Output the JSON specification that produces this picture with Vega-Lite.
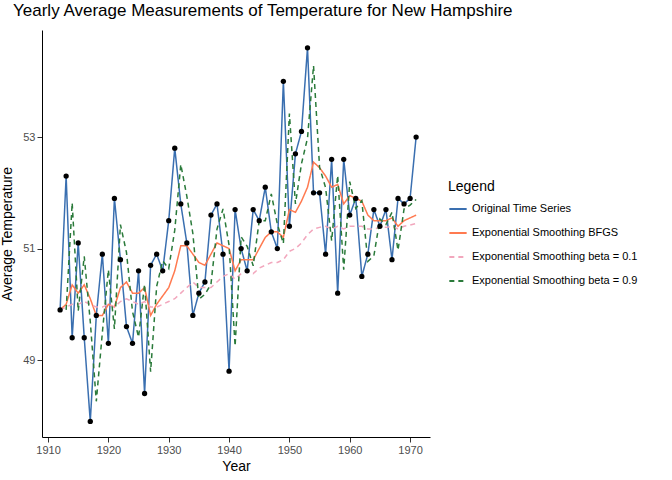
{
"$schema":"https://vega.github.io/schema/vega-lite/v6.json",
"autosize":{"type":"none"},
"width":388,"height":407,
"padding":{"left":42,"top":30,"right":242,"bottom":43},
"background":"white",
"title":{"text":"Yearly Average Measurements of Temperature for New Hampshire","anchor":"start","frame":"group","dx":-29,"offset":10,"font":"Liberation Sans","fontSize":17,"fontWeight":"normal","color":"black"},
"config":{"view":{"stroke":null},"axis":{"grid":false,"domainColor":"black","tickColor":"#333","labelColor":"#4d4d4d","labelFont":"Liberation Sans","labelFontSize":11,"titleFont":"Liberation Sans","titleFontSize":14,"titleFontWeight":"normal","titleColor":"black"}},
"data":{"values":[
{"y":1912,"o":49.9,"b":49.9,"p":49.9,"g":null},
{"y":1913,"o":52.3,"b":50.0,"p":49.95,"g":49.9},
{"y":1914,"o":49.4,"b":50.35,"p":50.0,"g":51.82},
{"y":1915,"o":51.1,"b":50.2,"p":50.0,"g":49.88},
{"y":1916,"o":49.4,"b":50.35,"p":50.05,"g":50.86},
{"y":1917,"o":47.9,"b":50.1,"p":50.0,"g":49.69},
{"y":1918,"o":49.8,"b":49.8,"p":49.95,"g":48.26},
{"y":1919,"o":50.9,"b":49.8,"p":49.95,"g":49.49},
{"y":1920,"o":49.3,"b":50.0,"p":50.0,"g":50.62},
{"y":1921,"o":51.9,"b":49.95,"p":49.95,"g":49.56},
{"y":1922,"o":50.8,"b":50.3,"p":50.05,"g":51.43},
{"y":1923,"o":49.6,"b":50.4,"p":50.1,"g":50.93},
{"y":1924,"o":49.3,"b":50.2,"p":50.05,"g":49.87},
{"y":1925,"o":50.6,"b":50.2,"p":50.0,"g":49.41},
{"y":1926,"o":48.4,"b":50.3,"p":50.05,"g":50.36},
{"y":1927,"o":50.7,"b":49.8,"p":49.95,"g":48.79},
{"y":1928,"o":50.9,"b":50.0,"p":49.95,"g":50.32},
{"y":1929,"o":50.6,"b":50.15,"p":50.0,"g":50.78},
{"y":1930,"o":51.5,"b":50.3,"p":50.05,"g":50.64},
{"y":1931,"o":52.8,"b":50.6,"p":50.1,"g":51.33},
{"y":1932,"o":51.8,"b":51.05,"p":50.2,"g":52.51},
{"y":1933,"o":51.1,"b":51.05,"p":50.3,"g":51.94},
{"y":1934,"o":49.8,"b":50.9,"p":50.4,"g":51.27},
{"y":1935,"o":50.2,"b":50.75,"p":50.3,"g":50.09},
{"y":1936,"o":50.4,"b":50.7,"p":50.3,"g":50.18},
{"y":1937,"o":51.6,"b":50.9,"p":50.3,"g":50.36},
{"y":1938,"o":51.8,"b":51.1,"p":50.4,"g":51.35},
{"y":1939,"o":50.9,"b":51.05,"p":50.5,"g":51.71},
{"y":1940,"o":48.8,"b":51.0,"p":50.55,"g":51.06},
{"y":1941,"o":51.7,"b":50.6,"p":50.45,"g":49.25},
{"y":1942,"o":51.0,"b":50.8,"p":50.55,"g":51.21},
{"y":1943,"o":50.6,"b":50.8,"p":50.6,"g":51.04},
{"y":1944,"o":51.7,"b":50.8,"p":50.55,"g":50.69},
{"y":1945,"o":51.5,"b":51.0,"p":50.65,"g":51.5},
{"y":1946,"o":52.1,"b":51.2,"p":50.7,"g":51.5},
{"y":1947,"o":51.3,"b":51.3,"p":50.75,"g":51.98},
{"y":1948,"o":51.0,"b":51.3,"p":50.75,"g":51.44},
{"y":1949,"o":54.0,"b":51.2,"p":50.8,"g":51.09},
{"y":1950,"o":51.4,"b":51.7,"p":50.95,"g":53.42},
{"y":1951,"o":52.7,"b":51.65,"p":51.0,"g":51.8},
{"y":1952,"o":53.1,"b":51.85,"p":51.1,"g":52.52},
{"y":1953,"o":54.6,"b":52.1,"p":51.25,"g":52.98},
{"y":1954,"o":52.0,"b":52.55,"p":51.35,"g":54.28},
{"y":1955,"o":52.0,"b":52.45,"p":51.38,"g":52.46},
{"y":1956,"o":50.9,"b":52.3,"p":51.4,"g":52.09},
{"y":1957,"o":52.6,"b":52.1,"p":51.35,"g":51.14},
{"y":1958,"o":50.2,"b":52.15,"p":51.4,"g":52.31},
{"y":1959,"o":52.6,"b":51.8,"p":51.35,"g":50.62},
{"y":1960,"o":51.6,"b":51.95,"p":51.4,"g":52.2},
{"y":1961,"o":51.9,"b":51.9,"p":51.4,"g":51.72},
{"y":1962,"o":50.5,"b":51.85,"p":51.4,"g":51.86},
{"y":1963,"o":50.9,"b":51.6,"p":51.35,"g":50.77},
{"y":1964,"o":51.7,"b":51.5,"p":51.35,"g":50.87},
{"y":1965,"o":51.4,"b":51.5,"p":51.38,"g":51.53},
{"y":1966,"o":51.7,"b":51.5,"p":51.38,"g":51.43},
{"y":1967,"o":50.8,"b":51.55,"p":51.4,"g":51.65},
{"y":1968,"o":51.9,"b":51.4,"p":51.35,"g":50.97},
{"y":1969,"o":51.8,"b":51.5,"p":51.4,"g":51.71},
{"y":1970,"o":51.9,"b":51.55,"p":51.42,"g":51.78},
{"y":1971,"o":53.0,"b":51.6,"p":51.45,"g":51.88}
]},
"encoding":{
"x":{"field":"y","type":"quantitative","title":"Year","scale":{"domain":[1909,1973.3],"nice":false,"zero":false},"axis":{"values":[1910,1920,1930,1940,1950,1960,1970],"format":"d","titlePadding":4}},
"y":{"field":"v","type":"quantitative","title":"Average Temperature","scale":{"domain":[47.62,54.92],"nice":false,"zero":false},"axis":{"values":[49,51,53],"titlePadding":8}}
},
"layer":[
{"transform":[{"fold":["o","b","p","g"],"as":["s","v"]},{"filter":"datum.v != null"}],
"mark":{"type":"line","strokeWidth":1.5},
"encoding":{
"color":{"field":"s","type":"nominal","scale":{"domain":["o","b","p","g"],"range":["#3a6fb0","#ff7a50","#f2a7bd","#2a7a3a"]},"legend":{"title":"Legend","orient":"none","legendX":406,"legendY":150,"labelLimit":300,"titleFont":"Liberation Sans","titleFontSize":14,"titleFontWeight":"normal","titleColor":"black","labelFont":"Liberation Sans","labelFontSize":11,"labelColor":"black","symbolType":"stroke","symbolStrokeWidth":2,"symbolSize":300,"rowPadding":9,"labelExpr":"{'o':'Original Time Series','b':'Exponential Smoothing BFGS','p':'Exponential Smoothing beta = 0.1','g':'Exponential Smoothing beta = 0.9'}[datum.value]"}},
"strokeDash":{"field":"s","type":"nominal","scale":{"domain":["o","b","p","g"],"range":[[1,0],[1,0],[5,4],[5,4]]},"legend":null},
"order":{"field":"y"}
}},
{"transform":[{"calculate":"datum.o","as":"v"}],
"mark":{"type":"circle","color":"black","opacity":1,"size":28}}
]
}
